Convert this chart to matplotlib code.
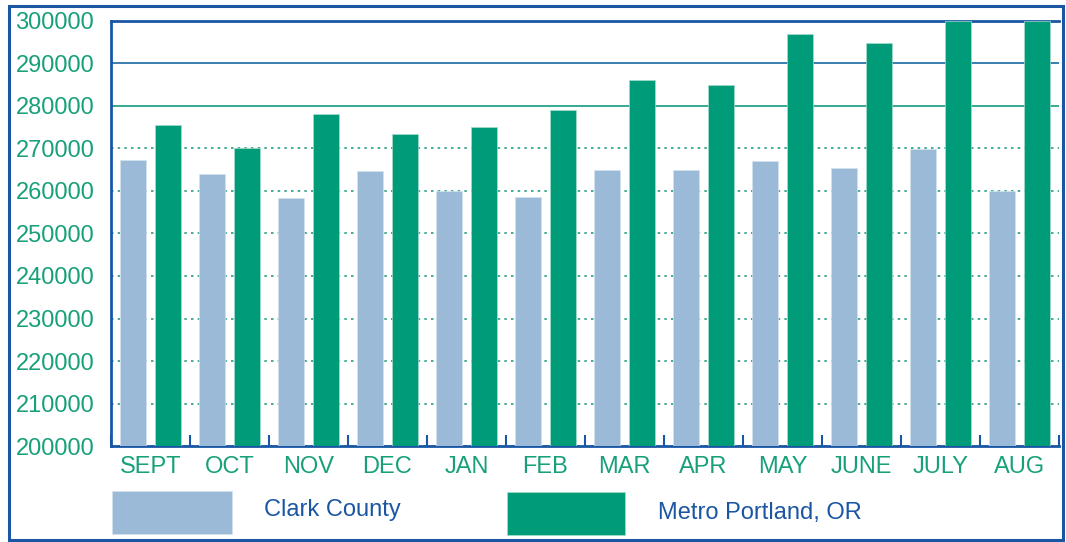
import numpy as np
import matplotlib.pyplot as plt
from matplotlib.patches import Rectangle

###############################################################################
#   DATA
###############################################################################
months = ['SEPT', 'OCT', 'NOV', 'DEC', 'JAN', 'FEB', 'MAR', 'APR', 'MAY',
          'JUNE', 'JULY', 'AUG']
clark = [267300, 264000, 258400, 264700, 260000, 258600, 265000, 265000,
         267000, 265400, 269900, 260000]
portland = [275500, 270000, 278000, 273500, 275000, 279000, 286100, 285000,
            297000, 294800, 300000, 300000]
series_names = ['Clark County', 'Metro Portland, OR']

light_blue = '#9bbad7'
green = '#009b78'
navy = '#1a56a3'
teal_text = '#17a07a'

plt.rcParams['font.family'] = ['Liberation Sans', 'DejaVu Sans']

###############################################################################
#   PLOT
###############################################################################
fig = plt.figure(figsize=(10.66, 5.42), dpi=100)
ax = fig.add_axes([0.1041, 0.1771, 0.8893, 0.7842])

x = np.arange(len(months))
w = 0.33
ax.bar(x - 0.22, clark, w, color=light_blue, edgecolor='#d3e2ee', linewidth=0.5, zorder=3)
ax.bar(x + 0.22, portland, w, color=green, edgecolor='#a8dccb', linewidth=0.5, zorder=3)

ax.set_xlim(-0.5, len(months) - 0.5)
ax.set_ylim(200000, 300000)
ax.set_yticks(np.arange(200000, 300001, 10000))
ax.tick_params(axis='y', length=0, pad=12, labelsize=17, labelcolor=teal_text)

# category boundary ticks pointing up, labels centred under each month
ax.set_xticks(np.arange(-0.5, len(months)), minor=False)
ax.set_xticklabels([])
ax.set_xticks(x, minor=True)
ax.set_xticklabels(months, minor=True)
ax.tick_params(axis='x', which='major', direction='in', length=8, width=1.5, color=navy)
ax.tick_params(axis='x', which='minor', length=0, pad=7, labelsize=17, labelcolor=teal_text)

# grid lines
ax.yaxis.grid(True, color='#2a9d86', linestyle=(0, (1.5, 2.5)), linewidth=1.2, zorder=1)
ax.set_axisbelow(True)
for val, gl in zip(ax.get_yticks(), ax.get_ygridlines()):
    if val == 290000:
        gl.set_linestyle('-'); gl.set_color('#1a6aa0')
    elif val == 280000:
        gl.set_linestyle('-'); gl.set_color('#139c80')

for s in ['left', 'top', 'bottom']:
    ax.spines[s].set_color(navy)
    ax.spines[s].set_linewidth(2)
ax.spines['right'].set_visible(False)

# legend boxes
fig.patches.append(Rectangle((112 / 1066, 1 - 534 / 542), 120 / 1066, 43 / 542,
                             transform=fig.transFigure, facecolor=light_blue,
                             edgecolor='#d3e2ee', linewidth=0.5))
fig.patches.append(Rectangle((507 / 1066, 1 - 535 / 542), 118 / 1066, 43 / 542,
                             transform=fig.transFigure, facecolor=green,
                             edgecolor='#a8dccb', linewidth=0.5))
fig.text(264 / 1066, 1 - 510 / 542, series_names[0], color=navy, fontsize=17, va='center')
fig.text(658 / 1066, 1 - 513 / 542, series_names[1], color=navy, fontsize=17, va='center')

# outer frame
fig.patches.append(Rectangle((9 / 1066, 2 / 542), 1054 / 1066, 534 / 542,
                             transform=fig.transFigure, fill=False,
                             edgecolor=navy, linewidth=2.2))

plt.savefig('out.png', dpi=100)
